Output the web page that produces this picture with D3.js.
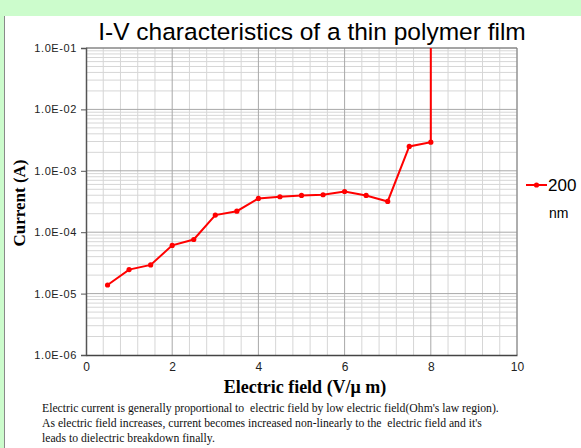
<!DOCTYPE html>
<html>
<head>
<meta charset="utf-8">
<script src="https://cdn.jsdelivr.net/npm/d3@7"></script>
<style>
  body { margin: 0; background: #ccfccc; }
  svg { display: block; }
</style>
</head>
<body>
<div id="chart"></div>
<script>
// Data
const fieldValues = [0.5, 1, 1.5, 2, 2.5, 3, 3.5, 4, 4.5, 5, 5.5, 6, 6.5, 7, 7.5, 8];
const currentValues = [1.38e-5, 2.46e-5, 2.93e-5, 6.1e-5, 7.6e-5, 1.9e-4, 2.2e-4, 3.55e-4,
  3.78e-4, 3.97e-4, 4.07e-4, 4.6e-4, 3.97e-4, 3.17e-4, 2.49e-3, 2.93e-3];
const breakdownPoint = [8, 1e-1];
const yTicks = [1e-1, 1e-2, 1e-3, 1e-4, 1e-5, 1e-6];
const xTicks = [0, 2, 4, 6, 8, 10];
const seriesName = ["200", "nm"];
const captionLines = [
  "Electric current is generally proportional to  electric field by low electric field(Ohm's law region).",
  "As electric field increases, current becomes increased non-linearly to the  electric field and it's",
  "leads to dielectric breakdown finally."
];

const width = 581, height = 448;
const margin = {top: 48, right: 64, bottom: 93, left: 86};
const innerW = width - margin.left - margin.right;
const innerH = height - margin.top - margin.bottom;

const svg = d3.select("#chart").append("svg")
  .attr("width", width)
  .attr("height", height);

// white panel and its left edge
svg.append("rect")
  .attr("x", 4).attr("y", 16)
  .attr("width", width - 4).attr("height", height - 16)
  .attr("fill", "#fff");
svg.append("line")
  .attr("x1", 4.5).attr("x2", 4.5).attr("y1", 16).attr("y2", height)
  .attr("stroke", "#8a8a8a");

const g = svg.append("g")
  .attr("transform", `translate(${margin.left},${margin.top})`);

const x = d3.scaleLinear().domain([0, 10]).range([0, innerW]);
const y = d3.scaleLog().domain([1e-6, 1e-1]).range([innerH, 0]);

// minor grid
const xMinor = d3.range(0, 10.01, 0.4).filter(v => Math.abs(v / 2 - Math.round(v / 2)) > 1e-6);
g.append("g").selectAll("line").data(xMinor).join("line")
  .attr("x1", d => x(d)).attr("x2", d => x(d))
  .attr("y1", 0).attr("y2", innerH)
  .attr("stroke", "#d6d6d6");

const yMinor = [];
for (let e = -6; e < -1; e++) for (let m = 2; m <= 9; m++) yMinor.push(m * Math.pow(10, e));
g.append("g").selectAll("line").data(yMinor).join("line")
  .attr("x1", 0).attr("x2", innerW)
  .attr("y1", d => y(d)).attr("y2", d => y(d))
  .attr("stroke", "#d6d6d6");

// major grid
g.append("g").selectAll("line").data(xTicks.slice(1)).join("line")
  .attr("x1", d => x(d)).attr("x2", d => x(d))
  .attr("y1", 0).attr("y2", innerH)
  .attr("stroke", "#a8a8a8");
g.append("g").selectAll("line").data(yTicks.slice(0, -1)).join("line")
  .attr("x1", 0).attr("x2", innerW)
  .attr("y1", d => y(d)).attr("y2", d => y(d))
  .attr("stroke", "#a8a8a8");

// frame
g.append("line").attr("x1", innerW).attr("x2", innerW).attr("y1", 0).attr("y2", innerH)
  .attr("stroke", "#888");
g.append("line").attr("x1", 0).attr("x2", innerW).attr("y1", 0).attr("y2", 0)
  .attr("stroke", "#777");

// axes
const yAxis = g.append("g")
  .call(d3.axisLeft(y).tickValues(yTicks).tickSize(5).tickPadding(4)
    .tickFormat(d => "1.0E-0" + Math.round(-Math.log10(d))));
yAxis.select(".domain").attr("stroke", "#555").attr("stroke-width", 1.5);
yAxis.selectAll(".tick line").attr("stroke", "#555");
yAxis.selectAll("text")
  .attr("font-family", "Liberation Sans, Arial, sans-serif")
  .attr("font-size", 11).attr("letter-spacing", 0.6).attr("fill", "#222");

const xAxis = g.append("g")
  .attr("transform", `translate(0,${innerH})`)
  .call(d3.axisBottom(x).tickValues(xTicks).tickSize(0).tickPadding(7));
xAxis.select(".domain").attr("stroke", "#444").attr("stroke-width", 1.5);
xAxis.selectAll("text")
  .attr("font-family", "Liberation Sans, Arial, sans-serif")
  .attr("font-size", 12).attr("fill", "#222");

// series
const points = fieldValues.map((v, i) => ({f: v, c: currentValues[i]}));
const lineGen = d3.line().x(d => x(d.f)).y(d => y(d.c));

g.append("path")
  .datum(points.concat([{f: breakdownPoint[0], c: breakdownPoint[1]}]))
  .attr("fill", "none")
  .attr("stroke", "#f00")
  .attr("stroke-width", 2)
  .attr("d", lineGen);

g.append("g").selectAll("circle").data(points).join("circle")
  .attr("cx", d => x(d.f)).attr("cy", d => y(d.c))
  .attr("r", 2.6).attr("fill", "#f00");

// title
svg.append("text")
  .attr("x", 312).attr("y", 40)
  .attr("text-anchor", "middle")
  .attr("font-family", "Liberation Sans, Arial, sans-serif")
  .attr("font-size", 24.5)
  .text("I-V characteristics of a thin polymer film");

// axis titles
svg.append("text")
  .attr("transform", "translate(25,203) rotate(-90)")
  .attr("text-anchor", "middle")
  .attr("font-family", "Liberation Serif, Times New Roman, serif")
  .attr("font-weight", "bold")
  .attr("font-size", 17)
  .text("Current (A)");

svg.append("text")
  .attr("x", 305).attr("y", 393)
  .attr("text-anchor", "middle")
  .attr("font-family", "Liberation Serif, Times New Roman, serif")
  .attr("font-weight", "bold")
  .attr("font-size", 18)
  .text("Electric field (V/\u03bc m)");

// legend
const lg = svg.append("g").attr("transform", "translate(526,185)");
lg.append("line").attr("x1", 0).attr("x2", 21).attr("stroke", "#f00").attr("stroke-width", 2);
lg.append("circle").attr("cx", 10.5).attr("r", 2.6).attr("fill", "#f00");
lg.append("text").attr("x", 22).attr("y", 6)
  .attr("font-family", "Liberation Sans, Arial, sans-serif")
  .attr("font-size", 17).text(seriesName[0]);
lg.append("text").attr("x", 23).attr("y", 33)
  .attr("font-family", "Liberation Sans, Arial, sans-serif")
  .attr("font-size", 14).text(seriesName[1]);

// caption
svg.append("g").selectAll("text").data(captionLines).join("text")
  .attr("x", 42).attr("y", (d, i) => 412 + i * 15)
  .attr("font-family", "Liberation Serif, Times New Roman, serif")
  .attr("font-size", 11.7)
  .attr("fill", "#111")
  .style("white-space", "pre")
  .text(d => d);
</script>
</body>
</html>
